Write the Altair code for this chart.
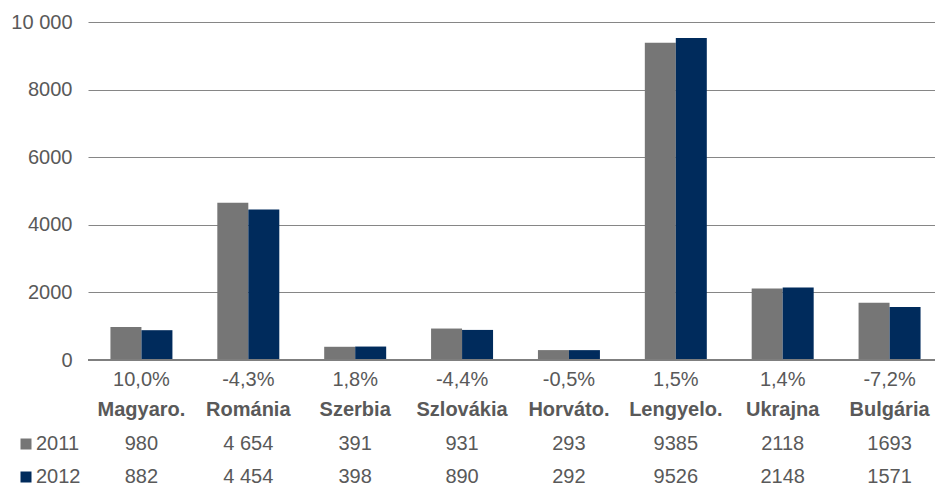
import altair as alt
import pandas as pd

countries = ["Magyaro.", "Románia", "Szerbia", "Szlovákia", "Horváto.", "Lengyelo.", "Ukrajna", "Bulgária"]
changes = ["10,0%", "-4,3%", "1,8%", "-4,4%", "-0,5%", "1,5%", "1,4%", "-7,2%"]
years = ["2011", "2012"]
values_2011 = [980, 4654, 391, 931, 293, 9385, 2118, 1693]
values_2012 = [882, 4454, 398, 890, 292, 9526, 2148, 1571]
labels_2011 = ["980", "4 654", "391", "931", "293", "9385", "2118", "1693"]
labels_2012 = ["882", "4 454", "398", "890", "292", "9526", "2148", "1571"]
y_ticks = [0, 2000, 4000, 6000, 8000, 10000]
colors = ["#767676", "#002b5c"]

FONT = "Liberation Sans"
TXT = "#595959"

bars_df = pd.DataFrame({
    "country": countries * 2,
    "year": ["2011"] * 8 + ["2012"] * 8,
    "value": values_2011 + values_2012,
})
table_df = pd.DataFrame({
    "country": countries,
    "change": changes,
    "l2011": labels_2011,
    "l2012": labels_2012,
})
legend_df = pd.DataFrame({"year": years})

x_scale = alt.Scale(domain=countries, paddingInner=0.42, paddingOuter=0.21, range=[0, 855])
color_scale = alt.Scale(domain=years, range=colors)

bars = alt.Chart(bars_df).mark_bar().encode(
    x=alt.X("country:N", scale=x_scale, axis=None, sort=countries),
    xOffset=alt.XOffset("year:N", sort=years),
    y=alt.Y("value:Q", scale=alt.Scale(domain=[0, 10000]),
            axis=alt.Axis(values=y_ticks, title=None, domain=False, ticks=False,
                          grid=True, gridColor="#868686", gridWidth=1,
                          labelFont=FONT, labelFontSize=20, labelColor=TXT, labelPadding=16,
                          labelExpr="datum.value == 10000 ? '10 000' : format(datum.value, 'd')")),
    color=alt.Color("year:N", scale=color_scale, legend=None),
)

zero = alt.Chart(bars_df).mark_rule(color="#7f7f7f", strokeWidth=1.5).encode(
    y=alt.datum(0), x=alt.value(0), x2=alt.value(855))

def row(field, ypix, bold=False):
    return alt.Chart(table_df).mark_text(
        font=FONT, fontSize=20, color=TXT, baseline="middle", align="center",
        fontWeight="bold" if bold else "normal",
    ).encode(
        x=alt.X("country:N", scale=x_scale, sort=countries),
        y=alt.value(ypix),
        text=alt.Text(f"{field}:N"),
    )

pct = row("change", 358)
names = row("country", 388, bold=True)
r2011 = row("l2011", 422)
r2012 = row("l2012", 455)

legend_layers = []
for yr, ypix in zip(years, [422, 455]):
    sub = alt.Chart(legend_df).transform_filter(alt.datum.year == yr)
    legend_layers.append(sub.mark_square(size=121, opacity=1).encode(
        x=alt.value(-62), y=alt.value(ypix),
        color=alt.Color("year:N", scale=color_scale, legend=None),
    ))
    legend_layers.append(sub.mark_text(
        font=FONT, fontSize=20, color=TXT, baseline="middle", align="left"
    ).encode(x=alt.value(-52), y=alt.value(ypix), text="year:N"))

chart = alt.layer(bars, zero, pct, names, r2011, r2012, *legend_layers).properties(
    width=847, height=338,
    autosize=alt.AutoSizeParams(type="none"),
    padding={"left": 80, "top": 14, "right": 0, "bottom": 128},
).configure_view(stroke=None)

chart.save("out.html", embed_options={"renderer": "svg", "actions": False})
